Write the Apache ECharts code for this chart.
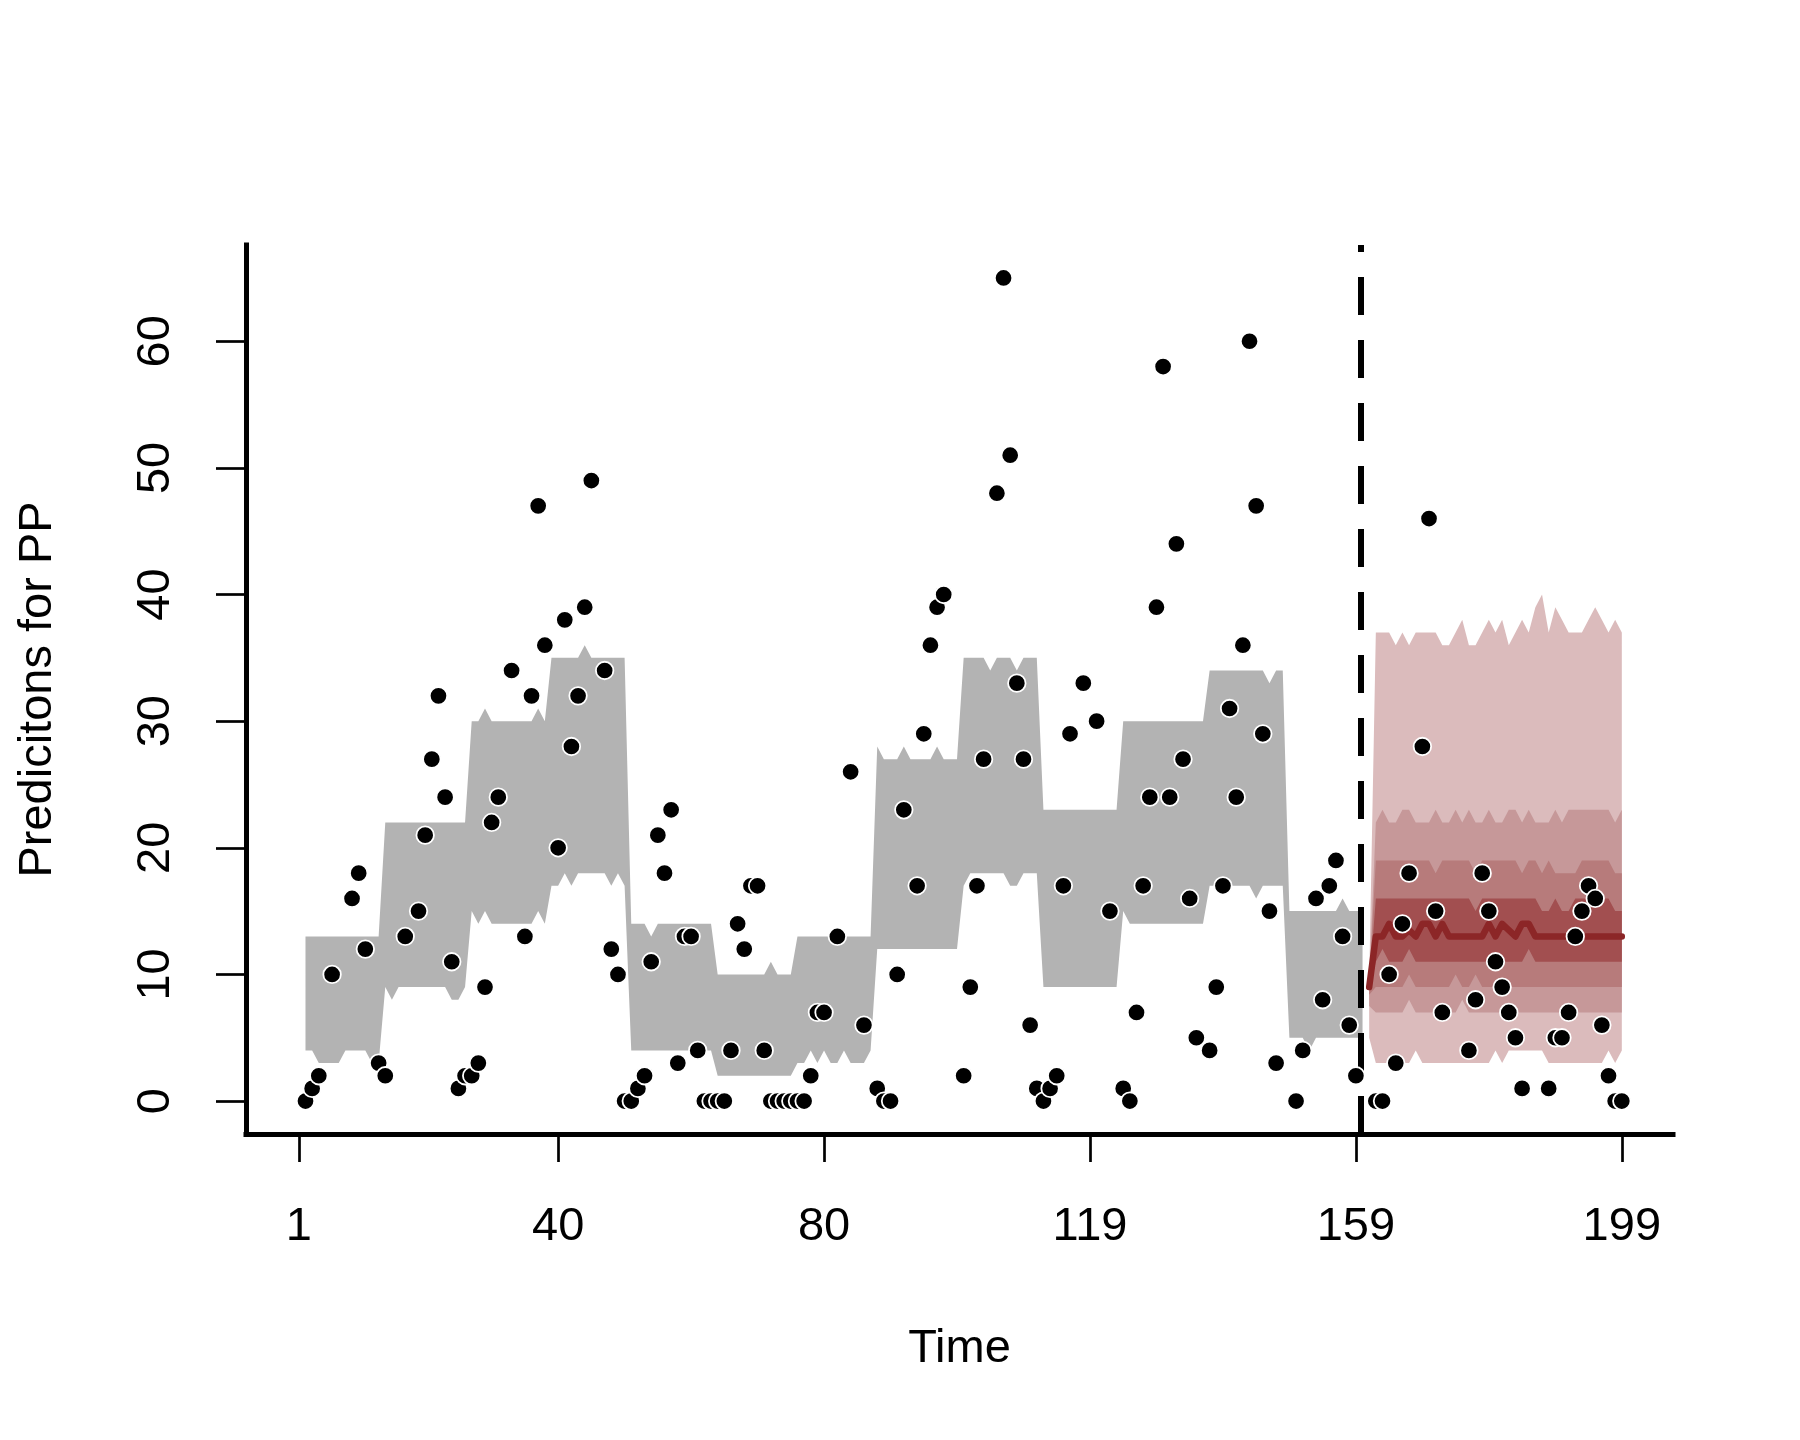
<!DOCTYPE html>
<html>
<head>
<meta charset="utf-8">
<script src="https://cdn.jsdelivr.net/npm/echarts@6/dist/echarts.min.js"></script>
<style>html,body{margin:0;padding:0;background:#fff}#chart{width:1800px;height:1440px}</style>
</head>
<body>
<div id="chart"></div>
<script>
// ---------- data ----------
// observed values, time = index + 1 (1..199); null = missing
const observed = [
  0, 1, 2, null, 10, null, null, 16, 18, 12,
  null, 3, 2, null, null, 13, null, 15, 21, 27,
  32, 24, 11, 1, 2, 2, 3, 9, 22, 24,
  null, 34, null, 13, 32, 47, 36, null, 20, 38,
  28, 32, 39, 49, null, 34, 12, 10, 0, 0,
  1, 2, 11, 21, 18, 23, 3, 13, 13, 4,
  0, 0, 0, 0, 4, 14, 12, 17, 17, 4,
  0, 0, 0, 0, 0, 0, 2, 7, 7, null,
  13, null, 26, null, 6, null, 1, 0, 0, 10,
  23, null, 17, 29, 36, 39, 40, null, null, 2,
  9, 17, 27, null, 48, 65, 51, 33, 27, 6,
  1, 0, 1, 2, 17, 29, null, 33, null, 30,
  null, 15, null, 1, 0, 7, 17, 24, 39, 58,
  24, 44, 27, 16, 5, null, 4, 9, 17, 31,
  24, 36, 60, 47, 29, 15, 3, null, null, 0,
  4, null, 16, 8, 17, 19, 13, 6, 2, null,
  null, 0, 0, 10, 3, 14, 18, null, 28, 46,
  15, 7, null, null, null, 4, 8, 18, 15, 11,
  9, 7, 5, 1, null, null, null, 1, 5, 5,
  7, 13, 15, 17, 16, 6, 2, 0, 0
];

// fitted interval (gray), time 1..160
const fitUpper = [
  13,13,13,13,13,13,13,13,13,13,13,13,
  22,22,22,22,22,22,22,22,22,22,22,22,22,
  30,30,31,30,30,30,30,30,30,30,31,30,
  35,35,35,35,35,36,35,35,35,35,35,35,
  14,14,14,13,14,14,14,14,14,14,14,14,14,
  10,10,10,10,10,10,10,10,11,10,10,10,
  13,13,13,13,13,13,13,13,13,13,13,13,
  28,27,27,27,28,27,27,27,27,28,27,27,27,
  35,35,35,35,34,35,35,35,34,35,35,35,
  23,23,23,23,23,23,23,23,23,23,23,23,
  30,30,30,30,30,30,30,30,30,30,30,30,30,
  34,34,34,34,34,34,34,34,34,33,34,34,
  15,15,15,15,15,15,15,15,16,15,15,15
];
const fitLower = [
  4,4,3,3,3,3,4,4,4,4,3,3,
  9,8,9,9,9,9,9,9,9,9,8,8,9,
  15,14,15,14,14,14,14,14,14,14,15,14,
  17,17,18,17,18,18,18,18,18,17,18,17,
  4,4,4,4,4,4,4,4,4,4,4,4,4,
  2,2,2,2,2,2,2,2,2,2,2,2,
  3,3,4,3,4,3,3,4,3,3,3,4,
  12,12,12,12,12,12,12,12,12,12,12,12,12,
  17,18,18,18,18,18,18,17,17,18,18,18,
  9,9,9,9,9,9,9,9,9,9,9,9,
  15,14,14,14,14,14,14,14,14,14,14,14,14,
  17,17,17,17,17,17,17,16,17,17,17,17,
  5,5,5,4,5,5,5,5,5,5,5,5
];

// forecast, time 161..199
const fcMedian = [9,13,13,14,13,13,13.5,13,14,14,13,14,13,13,13,13,13,13,14,13,14,13.5,13,14,14,13,13,13,13,13,13,13,13,13,13,13,13,13,13];
const fcOuterUp = [9.5,37,37,37,36,37,36,37,37,37,37,36,36,37,38,36,36,37,38,37,38,36,37,38,37,39,40,37,39,38,37,37,37,38,39,38,37,38,37];
const fcOuterLo = [5,3,3,3,3,3,3,4,3,3,3,3,3,3,3,3,3,3,3,4,3,4,4,4,4,4,4,3,3,3,3,3,3,3,3,3,4,3,4];
const fcB2Up = [9.4,22,23,22,22,23,23,22,22,22,23,22,22,23,22,23,22,22,23,22,22,23,23,22,23,22,22,22,23,22,23,23,23,23,23,23,23,22,23];
const fcB2Lo = [7.5,7,7,7,7,7,8,7,7,7,7,7,7,7,8,7,7,7,7,7,7,7,7,7,7,7,7,7,7,7,7,7,7,7,7,7,7,7,7];
const fcB3Up = [9.2,19,19,19,19,19,19,19,19,19,18,19,19,19,19,19,18,19,19,19,19,19,19,18,19,19,18,19,18,18,18,18,19,19,19,19,19,18,18];
const fcB3Lo = [8.4,9,9,9,9,9,10,9,9,9,9,9,9,10,9,9,10,9,9,9,9,9,9,9,9,9,9,9,9,9,9,9,9,9,9,9,9,9,9];
const fcB4Up = [9.1,16,16,16,16,16,16,16,16,16,16,16,16,16,16,16,15,16,16,16,16,16,16,16,16,16,15,15,16,15,15,16,16,16,16,16,16,15,15];
const fcB4Lo = [8.8,11,12,11,11,11,12,11,11,11,11,11,11,11,11,11,11,11,11,11,11,11,11,11,12,11,11,11,11,11,11,11,11,11,11,11,11,11,11];

const xTickPos = [0, 39, 79, 119, 159, 199];
const xTickLabel = ['1', '40', '80', '119', '159', '199'];
const yTicks = [0, 10, 20, 30, 40, 50, 60];
const cutTime = 159.7;

const fitTime = fitUpper.map((_, i) => i + 1);
const fcTime = fcMedian.map((_, i) => i + 161);
const obsPoints = observed.map((v, i) => [i + 1, v]).filter(p => p[1] !== null);

// ---------- chart ----------
const FONT = '"Liberation Sans", Arial, Helvetica, sans-serif';
const chart = echarts.init(document.getElementById('chart'), null, {renderer: 'canvas', width: 1800, height: 1440});

function band(times, lower, upper, color, z) {
  return {
    type: 'custom', z: z, silent: true, coordinateSystem: 'cartesian2d',
    data: [[times[0], lower[0]]],
    renderItem: function (params, api) {
      const pts = [];
      for (let i = 0; i < times.length; i++) pts.push(api.coord([times[i], upper[i]]));
      for (let i = times.length - 1; i >= 0; i--) pts.push(api.coord([times[i], lower[i]]));
      return {type: 'polygon', shape: {points: pts}, style: {fill: color}};
    }
  };
}

const option = {
  animation: false,
  backgroundColor: '#ffffff',
  grid: {left: 246, top: 245, width: 1427, height: 889, containLabel: false},
  xAxis: {
    type: 'value', min: -7.95, max: 206.7,
    name: 'Time', nameLocation: 'middle', nameGap: 192,
    nameTextStyle: {fontSize: 47, color: '#000', fontFamily: FONT},
    axisLine: {show: true, onZero: false, lineStyle: {color: '#000', width: 5, cap: 'square'}},
    axisTick: {show: true, length: 28, customValues: xTickPos, lineStyle: {color: '#000', width: 2.7}},
    axisLabel: {show: true, margin: 70, customValues: xTickPos, fontSize: 47, color: '#000', fontFamily: FONT,
      formatter: v => { const i = xTickPos.indexOf(v); return i >= 0 ? xTickLabel[i] : ''; }},
    splitLine: {show: false}
  },
  yAxis: {
    type: 'value', min: -2.6, max: 67.6,
    name: 'Predicitons for PP', nameLocation: 'middle', nameGap: 184,
    nameTextStyle: {fontSize: 47, color: '#000', fontFamily: FONT},
    axisLine: {show: true, onZero: false, lineStyle: {color: '#000', width: 5, cap: 'square'}},
    axisTick: {show: true, length: 30, customValues: yTicks, lineStyle: {color: '#000', width: 2.7}},
    axisLabel: {show: true, rotate: 90, margin: 66, customValues: yTicks, fontSize: 47, color: '#000', fontFamily: FONT},
    splitLine: {show: false}
  },
  series: [
    band(fitTime, fitLower, fitUpper, '#b3b3b3', 1),
    band(fcTime, fcOuterLo, fcOuterUp, '#dbbbbc', 2),
    band(fcTime, fcB2Lo, fcB2Up, '#c69899', 3),
    band(fcTime, fcB3Lo, fcB3Up, '#b77b7b', 4),
    band(fcTime, fcB4Lo, fcB4Up, '#a24f50', 5),
    {
      type: 'line', z: 6, silent: true, showSymbol: false, symbol: 'none',
      data: fcTime.map((t, i) => [t, fcMedian[i]]),
      lineStyle: {color: '#8c2627', width: 6.5, join: 'round', cap: 'round'},
      markLine: {
        silent: true, symbol: ['none', 'none'], label: {show: false},
        lineStyle: {color: '#000', width: 6, type: [38, 25]},
        data: [{xAxis: cutTime}]
      }
    },
    {
      type: 'scatter', z: 8, silent: true,
      data: obsPoints, symbol: 'circle', symbolSize: 17.5,
      itemStyle: {color: '#000', borderColor: '#fff', borderWidth: 1.8, opacity: 1}
    }
  ]
};
chart.setOption(option);
</script>
</body>
</html>
